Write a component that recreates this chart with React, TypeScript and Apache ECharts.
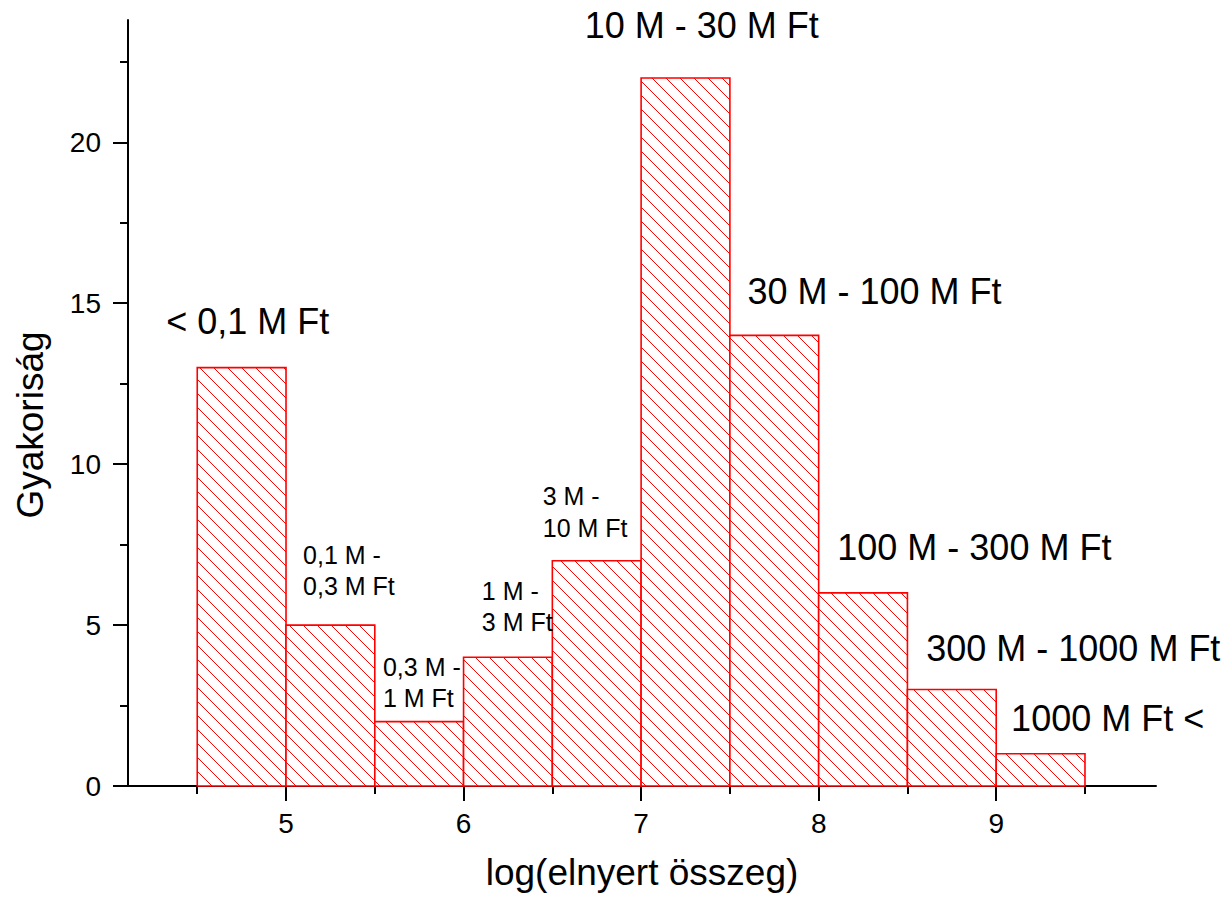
import React, { useEffect, useRef } from "react";
import * as echarts from "echarts";

// Histogram bins (log of amount won) and frequencies
const binStart = [4.5, 5.0, 5.5, 6.0, 6.5, 7.0, 7.5, 8.0, 8.5, 9.0];
const binEnd = [5.0, 5.5, 6.0, 6.5, 7.0, 7.5, 8.0, 8.5, 9.0, 9.5];
const counts = [13, 5, 2, 4, 7, 22, 14, 6, 3, 1];

// Axis ticks
const xMajorTicks = [5, 6, 7, 8, 9];
const xMinorTicks = [4.5, 5.5, 6.5, 7.5, 8.5, 9.5];
const yMajorTicks = [0, 5, 10, 15, 20];
const yMinorTicks = [2.5, 7.5, 12.5, 17.5, 22.5];

// Annotations (text, anchor in data coordinates: left edge / vertical middle)
const labelTexts = [
  "< 0,1 M Ft",
  "0,1 M -\n0,3 M Ft",
  "0,3 M -\n1 M Ft",
  "1 M -\n3 M Ft",
  "3 M -\n10 M Ft",
  "10 M - 30 M Ft",
  "30 M - 100 M Ft",
  "100 M - 300 M Ft",
  "300 M - 1000 M Ft",
  "1000 M Ft <",
];
const labelX = [4.325, 5.096, 5.546, 6.103, 6.446, 6.682, 7.599, 8.105, 8.606, 9.084];
const labelY = [14.43, 6.69, 3.22, 5.57, 8.51, 23.64, 15.37, 7.42, 4.26, 2.1];

const X_MIN = 4.11;
const X_MAX = 9.9;
const Y_MIN = 0;
const Y_MAX = 23.8;

const FONT = '"Liberation Sans", Arial, Helvetica, sans-serif';
const RED = "#ff0000";

export default function App() {
  const ref = useRef<HTMLDivElement>(null);

  useEffect(() => {
    if (!ref.current) return;
    const chart = echarts.init(ref.current, undefined, { renderer: "svg" });

    const axisLineStyle = { color: "#000", width: 2 };

    const option: any = {
      animation: false,
      backgroundColor: "#fff",
      grid: { left: 128, right: 75, top: 20, bottom: 116, containLabel: false },
      xAxis: [
        {
          type: "value",
          position: "bottom",
          min: X_MIN,
          max: X_MAX,
          axisLine: { show: true, lineStyle: axisLineStyle },
          axisTick: { show: true, customValues: xMajorTicks, length: 15, lineStyle: axisLineStyle },
          axisLabel: {
            customValues: xMajorTicks,
            fontSize: 28,
            fontFamily: FONT,
            color: "#000",
            margin: 23,
          },
          splitLine: { show: false },
          name: "log(elnyert összeg)",
          nameLocation: "middle",
          nameGap: 68,
          nameTextStyle: { fontSize: 37, fontFamily: FONT, color: "#000" },
        },
        {
          type: "value",
          position: "bottom",
          min: X_MIN,
          max: X_MAX,
          axisLine: { show: false },
          axisTick: { show: true, customValues: xMinorTicks, length: 8, lineStyle: axisLineStyle },
          axisLabel: { show: false },
          splitLine: { show: false },
        },
      ],
      yAxis: [
        {
          type: "value",
          position: "left",
          min: Y_MIN,
          max: Y_MAX,
          axisLine: { show: true, lineStyle: axisLineStyle },
          axisTick: { show: true, customValues: yMajorTicks, length: 15, lineStyle: axisLineStyle },
          axisLabel: {
            customValues: yMajorTicks,
            fontSize: 28,
            fontFamily: FONT,
            color: "#000",
            margin: 27,
          },
          splitLine: { show: false },
        },
        {
          type: "value",
          position: "left",
          min: Y_MIN,
          max: Y_MAX,
          axisLine: { show: false },
          axisTick: { show: true, customValues: yMinorTicks, length: 8, lineStyle: axisLineStyle },
          axisLabel: { show: false },
          splitLine: { show: false },
        },
      ],
      graphic: [
        {
          type: "text",
          x: 30,
          y: 425,
          rotation: Math.PI / 2,
          style: {
            text: "Gyakoriság",
            fontSize: 37,
            fontFamily: FONT,
            fill: "#000",
            align: "center",
            verticalAlign: "middle",
          },
        },
      ],
      series: [
        {
          type: "custom",
          xAxisIndex: 0,
          yAxisIndex: 0,
          silent: true,
          clip: false,
          encode: { x: [0, 1], y: 2 },
          data: binStart.map((s, i) => [s, binEnd[i], counts[i]]),
          renderItem: (params: any, api: any) => {
            const s = api.value(0);
            const e = api.value(1);
            const c = api.value(2);
            const p0 = api.coord([s, 0]);
            const p1 = api.coord([e, c]);
            const x0 = p0[0];
            const x1 = p1[0];
            const yb = p0[1];
            const yt = p1[1];
            const children: any[] = [];
            children.push({
              type: "rect",
              shape: { x: x0, y: yt, width: x1 - x0, height: yb - yt },
              style: { fill: "#fff" },
            });
            const sp = 14;
            const cmin = Math.ceil((x0 - yb) / sp) * sp;
            const cmax = x1 - yt;
            for (let k = cmin; k <= cmax; k += sp) {
              const xs = Math.max(x0, yt + k);
              const xe = Math.min(x1, yb + k);
              if (xe > xs) {
                children.push({
                  type: "line",
                  shape: { x1: xs, y1: xs - k, x2: xe, y2: xe - k },
                  style: { stroke: RED, lineWidth: 1 },
                });
              }
            }
            children.push({
              type: "rect",
              shape: { x: x0, y: yt, width: x1 - x0, height: yb - yt },
              style: { fill: "none", stroke: RED, lineWidth: 1.6 },
            });
            return { type: "group", children };
          },
        },
        {
          type: "custom",
          xAxisIndex: 0,
          yAxisIndex: 0,
          silent: true,
          clip: false,
          encode: { x: 0, y: 1 },
          data: labelX.map((x, i) => [x, labelY[i]]),
          renderItem: (params: any, api: any) => {
            const p = api.coord([api.value(0), api.value(1)]);
            const text = labelTexts[params.dataIndex];
            const multi = text.indexOf("\n") >= 0;
            return {
              type: "text",
              style: {
                text,
                x: p[0],
                y: p[1],
                fill: "#000",
                fontSize: multi ? 25 : 36,
                fontFamily: FONT,
                lineHeight: multi ? 31.5 : 40,
                align: "left",
                verticalAlign: "middle",
              },
            };
          },
        },
      ],
    };

    chart.setOption(option);
    return () => {
      chart.dispose();
    };
  }, []);

  return (
    <div
      ref={ref}
      style={{ position: "fixed", left: 0, top: 0, width: 1231, height: 902, background: "#fff" }}
    />
  );
}
